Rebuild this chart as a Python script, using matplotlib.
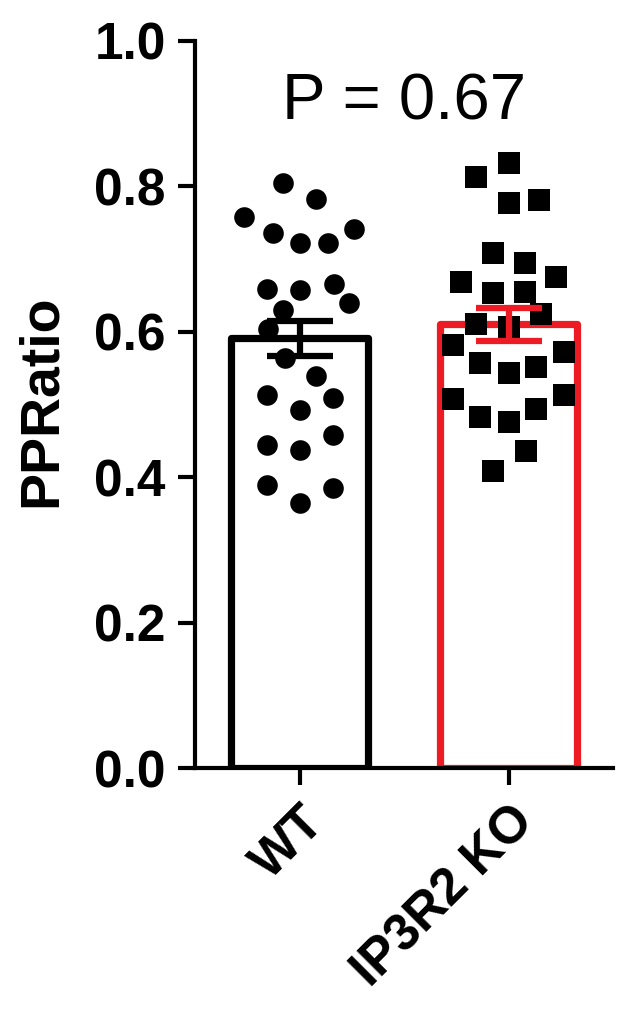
import numpy as np
import matplotlib
matplotlib.use("Agg")
import matplotlib.pyplot as plt

plt.rcParams['font.family'] = ['Liberation Sans', 'DejaVu Sans']

groups = ['WT', 'IP3R2 KO']
group_means = [0.591, 0.610]
group_sems = [0.024, 0.023]
p_text = 'P = 0.67'

# individual cells
wt_values = [0.804, 0.782, 0.758, 0.736, 0.722, 0.722, 0.741, 0.659, 0.657, 0.666,
             0.640, 0.630, 0.603, 0.564, 0.539, 0.513, 0.492, 0.509, 0.444, 0.437,
             0.458, 0.389, 0.365, 0.385]
wt_jitter = [-0.077, 0.077, -0.264, -0.125, 0.0, 0.135, 0.26, -0.154, 0.0, 0.163,
             0.236, -0.077, -0.149, -0.067, 0.077, -0.154, 0.0, 0.159, -0.154, 0.0,
             0.159, -0.154, 0.0, 0.159]
ko_values = [0.813, 0.832, 0.777, 0.781, 0.708, 0.695, 0.668, 0.675, 0.653, 0.654,
             0.624, 0.611, 0.607, 0.582, 0.572, 0.557, 0.543, 0.552, 0.508, 0.513,
             0.483, 0.476, 0.494, 0.436, 0.408]
ko_jitter = [-0.154, 0.0, 0.0, 0.144, -0.072, 0.077, -0.226, 0.226, -0.072, 0.077,
             0.154, -0.154, 0.0, -0.264, 0.264, -0.135, 0.0, 0.13, -0.264, 0.264,
             -0.135, 0.0, 0.13, 0.082, -0.072]

red = '#ED1C24'
colors = ['black', red]

fig = plt.figure(figsize=(6.17, 10.09), dpi=100)
ax = fig.add_axes([195 / 617, 1 - 768 / 1009, 418 / 617, 727.3 / 1009])

x = np.arange(len(groups))
ax.bar(x, group_means, width=0.66, color='white', edgecolor=colors,
       linewidth=5.2, joinstyle='round', zorder=1)

ax.scatter(x[0] + np.array(wt_jitter), wt_values, marker='o', s=220,
           color='black', linewidths=0, zorder=2)
ax.scatter(x[1] + np.array(ko_jitter), ko_values, marker='s', s=245,
           color='black', linewidths=0, zorder=2)

for xi, m, e, c in zip(x, group_means, group_sems, colors):
    ax.errorbar(xi, m, yerr=e, fmt='none', ecolor=c, elinewidth=4.5,
                capsize=24, capthick=4.5, zorder=3)

ax.text(0.5, 0.891, p_text, ha='center', va='baseline', fontsize=47)

ticks = np.arange(0, 1.01, 0.2)
ax.set_xlim(-0.5, 1.5)
ax.set_ylim(0, 1.0)
ax.set_yticks(ticks)
ax.set_yticklabels([f'{t:.1f}' for t in ticks], fontsize=37, fontweight='bold')
ax.set_xticks(x)
ax.set_xticklabels(groups, fontsize=37, fontweight='bold', rotation=45,
                   ha='right', rotation_mode='anchor')
ax.set_ylabel('PPRatio', fontsize=40, fontweight='bold')
ax.yaxis.set_label_coords(-0.305, 0.505)

for side in ['top', 'right']:
    ax.spines[side].set_visible(False)
for side in ['left', 'bottom']:
    ax.spines[side].set_linewidth(3)
ax.tick_params(axis='both', length=12, width=3, direction='out')
ax.tick_params(axis='y', pad=9)
ax.tick_params(axis='x', pad=9)

fig.savefig('out.png', dpi=100)
